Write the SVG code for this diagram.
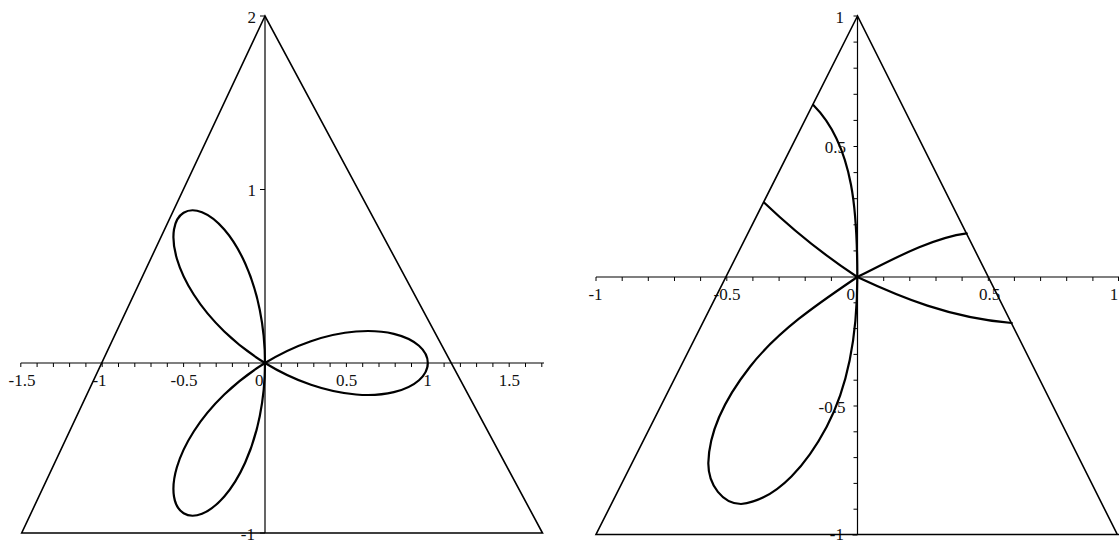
<svg xmlns="http://www.w3.org/2000/svg" xmlns:xlink="http://www.w3.org/1999/xlink" width="1119" height="542" viewBox="0 0 1119 542">
<style>
.ax{stroke:#000;stroke-width:1.2;fill:none}
.tk{stroke:#000;stroke-width:1;fill:none}
.tri{stroke:#000;stroke-width:1.6;fill:none;stroke-linejoin:miter}
.cv{stroke:#000;stroke-width:2.2;fill:none;stroke-linejoin:round;stroke-linecap:round}
.lbl{font-family:"Liberation Serif","Times New Roman",serif;font-size:17px;fill:#111}
.m{text-anchor:middle}
.e{text-anchor:end}
</style>
<defs>
<path id="petal" vector-effect="non-scaling-stroke" d="M0,0 C.0907,-.0524 .1869,-.0950 .2823,-.1257 C.3777,-.1564 .4721,-.1750 .5590,-.1816 C.6459,-.1883 .7253,-.1830 .7913,-.1682 C.8574,-.1534 .9102,-.1290 .9459,-.0994 C.9815,-.0698 1,-.0349 1,0 C1,.0349 .9815,.0698 .9459,.0994 C.9102,.1290 .8574,.1534 .7913,.1682 C.7253,.1830 .6459,.1883 .5590,.1816 C.4721,.1750 .3777,.1564 .2823,.1257 C.1869,.0950 .0907,.0524 0,0 Z"/>
</defs>
<rect width="1119" height="542" fill="#fff"/>

<g id="left-plot">
  <g id="left-axes">
    <path class="ax" d="M20.8,363 H544 M265,16 V533"/>
    <path class="tk" d="M20.8,363v4 M37.1,363v4 M53.4,363v4 M69.6,363v4 M85.9,363v4 M102.2,363v4 M118.5,363v4 M134.8,363v4 M151,363v4 M167.3,363v4 M183.6,363v4 M199.9,363v4 M216.2,363v4 M232.4,363v4 M248.7,363v4 M281.3,363v4 M297.6,363v4 M313.8,363v4 M330.1,363v4 M346.4,363v4 M362.7,363v4 M379,363v4 M395.2,363v4 M411.5,363v4 M427.8,363v4 M444.1,363v4 M460.4,363v4 M476.6,363v4 M492.9,363v4 M509.2,363v4 M525.5,363v4 M541.8,363v4 M265,16h-5 M265,189.5h-5 M265,533h-5"/>
    <text class="lbl m" x="22" y="386">-1.5</text>
    <text class="lbl m" x="99.5" y="386">-1</text>
    <text class="lbl m" x="184" y="386">-0.5</text>
    <text class="lbl e" x="263.5" y="386">0</text>
    <text class="lbl m" x="346.5" y="386">0.5</text>
    <text class="lbl m" x="427.5" y="386">1</text>
    <text class="lbl m" x="509.3" y="386">1.5</text>
    <text class="lbl e" x="256" y="23">2</text>
    <text class="lbl e" x="256" y="196">1</text>
    <text class="lbl e" x="255" y="540">-1</text>
  </g>
  <path id="left-triangle" class="tri" d="M265,16 L21.7,533 L542.5,533 Z"/>
  <g id="rose" class="cv" transform="translate(265,363) scale(162.8,-173.5)">
    <use xlink:href="#petal"/>
    <use xlink:href="#petal" transform="rotate(120)"/>
    <use xlink:href="#petal" transform="rotate(240)"/>
  </g>
</g>

<g id="right-plot">
  <g id="right-axes">
    <path class="ax" d="M596,277 H1119 M857.5,16 V535"/>
    <path class="tk" d="M596,277v4 M622.2,277v4 M648.3,277v4 M674.5,277v4 M700.6,277v4 M726.8,277v4 M752.9,277v4 M779.1,277v4 M805.2,277v4 M831.4,277v4 M883.7,277v4 M909.8,277v4 M936,277v4 M962.1,277v4 M988.3,277v4 M1014.4,277v4 M1040.6,277v4 M1066.7,277v4 M1092.9,277v4 M1118.5,277v4 M857.5,16h-4 M857.5,42.1h-4 M857.5,68.2h-4 M857.5,94.3h-4 M857.5,120.4h-4 M857.5,146.5h-4 M857.5,172.6h-4 M857.5,198.7h-4 M857.5,224.8h-4 M857.5,250.9h-4 M857.5,302.8h-4 M857.5,328.6h-4 M857.5,354.4h-4 M857.5,380.2h-4 M857.5,406h-4 M857.5,431.8h-4 M857.5,457.6h-4 M857.5,483.4h-4 M857.5,509.2h-4 M857.5,535h-5"/>
    <text class="lbl m" x="595.5" y="300">-1</text>
    <text class="lbl m" x="727" y="300">-0.5</text>
    <text class="lbl e" x="855" y="300">0</text>
    <text class="lbl m" x="989.5" y="300">0.5</text>
    <text class="lbl m" x="1114" y="300">1</text>
    <text class="lbl e" x="844" y="23">1</text>
    <text class="lbl e" x="846" y="153">0.5</text>
    <text class="lbl e" x="845.5" y="413">-0.5</text>
    <text class="lbl e" x="844" y="540">-1</text>
  </g>
  <path id="right-triangle" class="tri" d="M857.5,16 L596,534.5 L1117.3,534.5 Z M1117.3,534.5 H1119"/>
  <g id="right-curves" class="cv">
    <path d="M857.3,277 C857.3,218 855,146.7 813.3,105"/>
    <path d="M857.3,277 C830,259 795,232 764.3,202.7"/>
    <path d="M857.3,277 C888,262 930,238 966.7,233.3"/>
    <path d="M857.3,277 C900,297 950,318 1011.8,323"/>
    <path d="M857.3,277 C818.8,303.2 778.9,329.9 750,366.7 C728.3,394.4 709,428.3 708.3,463.3 C708.3,485.3 723,504 741,504 C779,500 808.9,460.3 826.7,426.7 C850.6,381.6 857.3,328 857.3,277"/>
  </g>
</g>
</svg>
